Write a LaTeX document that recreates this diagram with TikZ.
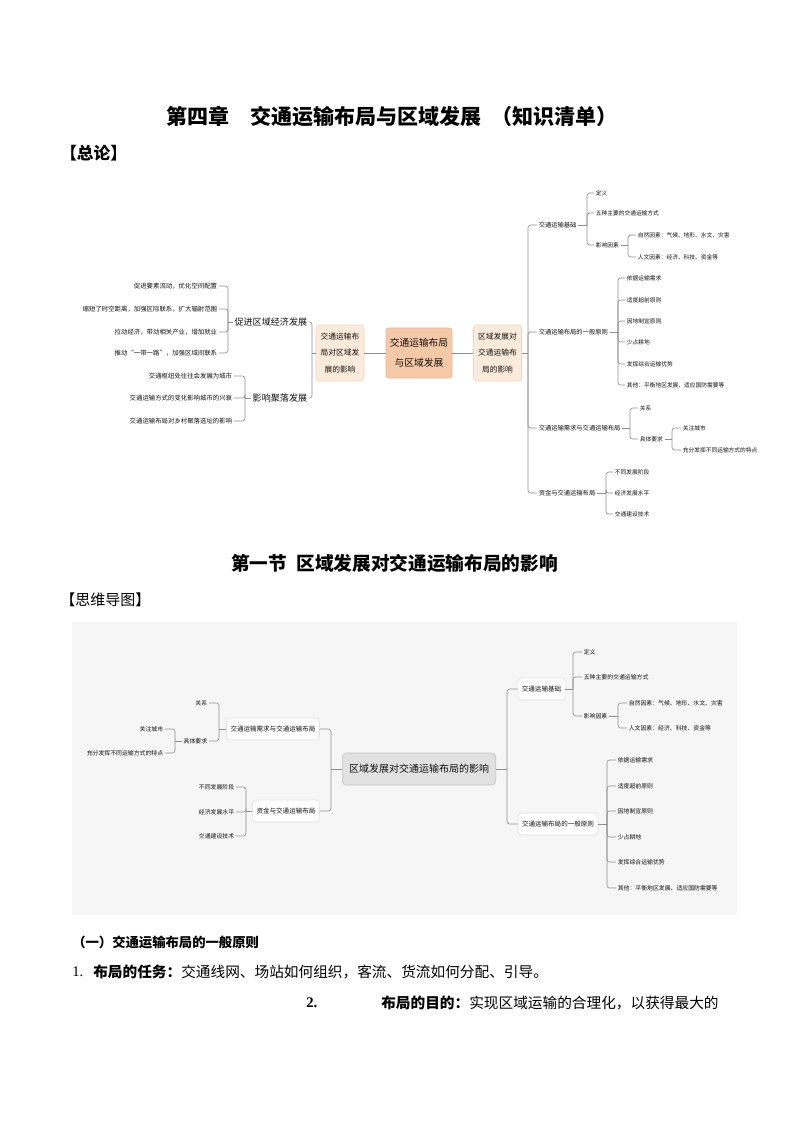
\documentclass[tikz,border=0pt]{standalone}
\usepackage{fontspec}
\setmainfont{Noto Sans CJK SC}
\newfontfamily\tnr{Liberation Serif}
\definecolor{lineg}{HTML}{8E8E8E}
\definecolor{orc}{HTML}{F5C8A8}
\definecolor{orcd}{HTML}{EAB592}
\definecolor{ors}{HTML}{FCEADB}
\definecolor{orsd}{HTML}{F1D3BC}
\definecolor{bgg}{HTML}{F6F6F6}
\definecolor{cg}{HTML}{E1E1E1}
\definecolor{cgd}{HTML}{C4C4C4}
\definecolor{bxd}{HTML}{E0E0E0}
\definecolor{txt}{HTML}{111111}
\tikzset{
  conn/.style={draw=lineg, line width=0.45pt},
  leafR/.style={anchor=west, inner xsep=1.2pt, inner ysep=0.8pt, text=txt, font=\fontsize{4.3}{5}\selectfont},
  leafL/.style={anchor=east, inner xsep=1.2pt, inner ysep=0.8pt, text=txt, font=\fontsize{4.8}{5.5}\selectfont},
  l1R/.style={anchor=west, inner xsep=1.2pt, inner ysep=0.8pt, text=txt, font=\fontsize{4.7}{5.5}\selectfont},
  l1L/.style={anchor=east, inner xsep=1.2pt, inner ysep=0.8pt, text=txt, font=\fontsize{6.8}{8}\selectfont},
  cbox/.style={draw=orcd, fill=orc, rounded corners=2pt, line width=0.4pt, align=center, text=txt,
    minimum width=49.5pt, minimum height=37.5pt, inner sep=1pt, font=\fontsize{7.3}{15}\selectfont},
  sbox/.style={draw=orsd, fill=ors, rounded corners=2pt, line width=0.4pt, align=center, text=txt,
    minimum width=36pt, minimum height=42pt, inner sep=1pt, font=\fontsize{5.8}{12.4}\selectfont},
  mcbox/.style={draw=cgd, fill=cg, rounded corners=3pt, line width=0.5pt, text=txt,
    minimum height=24pt, inner xsep=5pt, font=\fontsize{7.5}{9}\selectfont},
  mbox/.style={draw=bxd, fill=white, rounded corners=2.5pt, line width=0.5pt, text=txt,
    minimum height=16.5pt, inner xsep=3pt, font=\fontsize{4.9}{6}\selectfont},
  mleafR/.style={anchor=west, inner xsep=1.2pt, inner ysep=0.8pt, text=txt, font=\fontsize{4.4}{5}\selectfont},
  mleafL/.style={anchor=east, inner xsep=1.2pt, inner ysep=0.8pt, text=txt, font=\fontsize{4.4}{5}\selectfont},
  plain/.style={anchor=west, inner sep=0pt, text=black}
}
\newcommand\rbranch[3]{%
  \draw[conn] (#1.east) -- (#1.east -| #2,0);
  \foreach \cc in {#3}{\draw[conn,rounded corners=2pt] (#1.east -| #2,0) |- (\cc.west);}
}
\newcommand\lbranch[3]{%
  \draw[conn] (#1.west) -- (#1.west -| #2,0);
  \foreach \cc in {#3}{\draw[conn,rounded corners=2pt] (#1.west -| #2,0) |- (\cc.east);}
}
\begin{document}
\begin{tikzpicture}[x=0.75pt,y=-0.75pt]
\useasboundingbox (0,0) rectangle (794,1123);
\fill[white] (0,0) rectangle (794,1123);

% headings
\node[plain, font=\fontsize{15.75}{18}\selectfont\bfseries] (title) at (166,117)
  {第四章\hspace{1em}交通运输布局与区域发展\hspace{0.5em}（知识清单）};
\node[plain, font=\fontsize{12.5}{14}\selectfont\bfseries] (zl) at (60,153) {【总论】};

% ---------- top mind map ----------
\node[cbox] (c) at (419,353) {交通运输布局\\与区域发展};
\node[sbox] (lb) at (340,353) {交通运输布\\局对区域发\\展的影响};
\node[sbox] (rb) at (497.5,353) {区域发展对\\交通运输布\\局的影响};
\draw[conn] (c.west) -- (lb.east);
\draw[conn] (c.east) -- (rb.west);

\node[l1L] (a1) at (309,322) {促进区域经济发展};
\node[l1L] (a2) at (309,398) {影响聚落发展};
\lbranch{lb}{312}{a1,a2}
\node[leafL] (a11) at (219,286) {促进要素流动，优化空间配置};
\node[leafL] (a12) at (219,309) {缩短了时空距离，加强区际联系，扩大辐射范围};
\node[leafL] (a13) at (219,332) {拉动经济，带动相关产业，增加就业};
\node[leafL] (a14) at (219,353) {推动“一带一路”，加强区域间联系};
\lbranch{a1}{228}{a11,a12,a13,a14}
\node[leafL] (a21) at (234,376) {交通枢纽处往往会发展为城市};
\node[leafL] (a22) at (234,398) {交通运输方式的变化影响城市的兴衰};
\node[leafL] (a23) at (234,421) {交通运输布局对乡村聚落选址的影响};
\lbranch{a2}{245}{a21,a22,a23}

\node[l1R] (r1) at (537,225) {交通运输基础};
\node[l1R] (r2) at (537,332) {交通运输布局的一般原则};
\node[l1R] (r3) at (537,428) {交通运输需求与交通运输布局};
\node[l1R] (r4) at (537,493) {资金与交通运输布局};
\rbranch{rb}{528}{r1,r2,r3,r4}

\node[leafR] (r11) at (594,193) {定义};
\node[leafR] (r12) at (594,213) {五种主要的交通运输方式};
\node[leafR] (r13) at (594,245) {影响因素};
\rbranch{r1}{587}{r11,r12,r13}
\node[leafR] (r131) at (636,235) {自然因素：气候、地形、水文、灾害};
\node[leafR] (r132) at (636,257) {人文因素：经济、科技、资金等};
\rbranch{r13}{628}{r131,r132}

\node[leafR] (r21) at (625,278) {依据运输需求};
\node[leafR] (r22) at (625,300) {适度超前原则};
\node[leafR] (r23) at (625,321) {因地制宜原则};
\node[leafR] (r24) at (625,342) {少占耕地};
\node[leafR] (r25) at (625,364) {发挥综合运输优势};
\node[leafR] (r26) at (625,385) {其他：平衡地区发展、适应国防需要等};
\rbranch{r2}{618}{r21,r22,r23,r24,r25,r26}

\node[leafR] (r31) at (638,408) {关系};
\node[leafR] (r32) at (638,439) {具体要求};
\rbranch{r3}{630}{r31,r32}
\node[leafR] (r321) at (681,428) {关注城市};
\node[leafR] (r322) at (681,450) {充分发挥不同运输方式的特点};
\rbranch{r32}{672}{r321,r322}

\node[leafR] (r41) at (613,472) {不同发展阶段};
\node[leafR] (r42) at (613,493) {经济发展水平};
\node[leafR] (r43) at (613,514) {交通建设技术};
\rbranch{r4}{606}{r41,r42,r43}

% ---------- section heading ----------
\node[plain, font=\fontsize{14}{16}\selectfont\bfseries] (h2) at (231,563)
  {第一节\hspace{0.5em}区域发展对交通运输布局的影响};
\node[plain, font=\fontsize{11.25}{13}\selectfont] (sw) at (60,600) {【思维导图】};

% ---------- second mind map ----------
\fill[bgg] (72,622) rectangle (737,915);
\node[mcbox] (m) at (419,769) {区域发展对交通运输布局的影响};

\node[mbox] (ml1) at (273,729) {交通运输需求与交通运输布局};
\node[mbox] (ml2) at (286,811) {资金与交通运输布局};
\lbranch{m}{331}{ml1,ml2}
\node[mleafL] (n11) at (209,703) {关系};
\node[mleafL] (n12) at (209,741) {具体要求};
\lbranch{ml1}{219}{n11,n12}
\node[mleafL] (n121) at (165,729) {关注城市};
\node[mleafL] (n122) at (165,753) {充分发挥不同运输方式的特点};
\lbranch{n12}{175}{n121,n122}
\node[mleafL] (n21) at (236,787) {不同发展阶段};
\node[mleafL] (n22) at (236,812) {经济发展水平};
\node[mleafL] (n23) at (236,836) {交通建设技术};
\lbranch{ml2}{246}{n21,n22,n23}

\node[mbox] (mr1) at (541.5,689) {交通运输基础};
\node[mbox] (mr2) at (558,824) {交通运输布局的一般原则};
\rbranch{m}{507}{mr1,mr2}
\node[mleafR] (q11) at (582,652) {定义};
\node[mleafR] (q12) at (582,677) {五种主要的交通运输方式};
\node[mleafR] (q13) at (582,716) {影响因素};
\rbranch{mr1}{573}{q11,q12,q13}
\node[mleafR] (q131) at (627,703) {自然因素：气候、地形、水文、灾害};
\node[mleafR] (q132) at (627,728) {人文因素：经济、科技、资金等};
\rbranch{q13}{618}{q131,q132}
\node[mleafR] (q21) at (616,760) {依据运输需求};
\node[mleafR] (q22) at (616,786) {适度超前原则};
\node[mleafR] (q23) at (616,811) {因地制宜原则};
\node[mleafR] (q24) at (616,837) {少占耕地};
\node[mleafR] (q25) at (616,862) {发挥综合运输优势};
\node[mleafR] (q26) at (616,888) {其他：平衡地区发展、适应国防需要等};
\rbranch{mr2}{607}{q21,q22,q23,q24,q25,q26}

% ---------- body text ----------
\node[plain, font=\fontsize{10}{12}\selectfont\bfseries] (h3) at (72,942) {（一）交通运输布局的一般原则};
\node[plain, font=\fontsize{11}{13}\selectfont] (n1) at (72,972) {\tnr 1.};
\node[plain, font=\fontsize{11}{13}\selectfont] (p1) at (93,972)
  {\textbf{布局的任务：}交通线网、场站如何组织，客流、货流如何分配、引导。};
\node[plain, font=\fontsize{11}{13}\selectfont] (n2) at (306,1003) {\tnr\bfseries 2.};
\node[plain, font=\fontsize{11}{13}\selectfont] (p2) at (381,1003)
  {\textbf{布局的目的：}实现区域运输的合理化，以获得最大的};
\end{tikzpicture}
\end{document}
